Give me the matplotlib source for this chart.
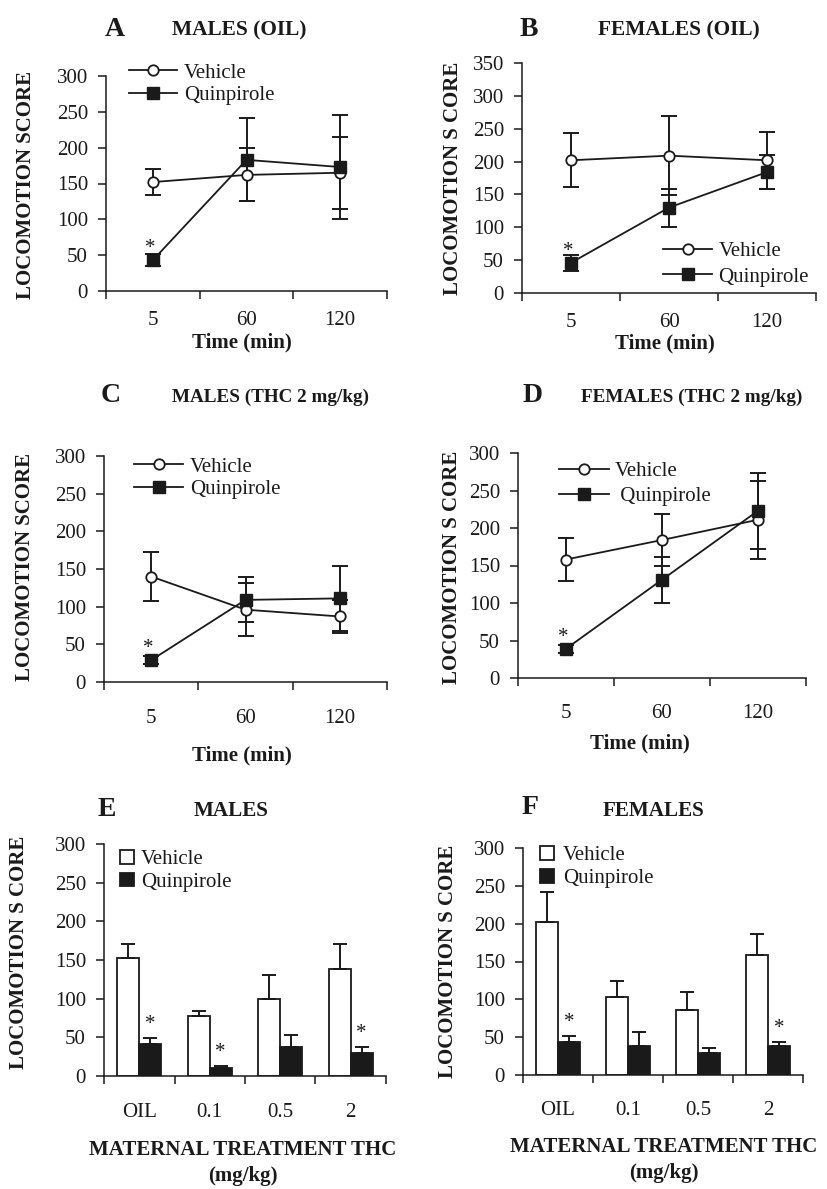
import matplotlib
matplotlib.use('Agg')
import matplotlib.pyplot as plt
import numpy as np

plt.rcParams['font.family'] = ['Liberation Serif', 'DejaVu Serif']
INK = '#1a1a1a'

# ---------------- data ----------------
time_labels = ['5', '60', '120']
dose_labels = ['OIL', '0.1', '0.5', '2']

a_vehicle = [152, 162, 165]
a_vehicle_err = [18, 37, 50]
a_quin = [43, 183, 173]
a_quin_err = [8, 58, 73]
a_sig = [True, False, False]

b_vehicle = [202, 209, 202]
b_vehicle_err = [41, 60, 43]
b_quin = [46, 130, 184]
b_quin_err = [12, 29, 26]
b_sig = [True, False, False]

c_vehicle = [140, 96, 87]
c_vehicle_err = [32, 35, 22]
c_quin = [29, 109, 111]
c_quin_err = [5, 30, 43]
c_sig = [True, False, False]

d_vehicle = [158, 184, 211]
d_vehicle_err = [29, 35, 52]
d_quin = [39, 131, 223]
d_quin_err = [5, 31, 51]
d_sig = [True, False, False]

e_vehicle = [152, 77, 100, 138]
e_vehicle_err = [19, 7, 31, 33]
e_quin = [42, 10, 38, 30]
e_quin_err = [7, 2.5, 15, 7]
e_sig = [True, True, False, True]

f_vehicle = [202, 103, 86, 158]
f_vehicle_err = [40, 21, 24, 29]
f_quin = [43, 38, 29, 38]
f_quin_err = [9, 19, 7, 5]
f_sig = [True, False, False, True]

# ---------------- layout (pixels) ----------------
W, H = 827, 1189
fig = plt.figure(figsize=(W / 100, H / 100), dpi=100)


def fx(px):
    return px / W


def fy(py):
    return 1 - py / H


def add_axes_px(l, t, r, b):
    return fig.add_axes([l / W, 1 - b / H, (r - l) / W, (b - t) / H])


def style_axes(ax, ymax, n, tick_labels, pad):
    ax.set_xlim(0, n)
    ax.set_ylim(0, ymax)
    for s in ['top', 'right']:
        ax.spines[s].set_visible(False)
    for s in ['left', 'bottom']:
        ax.spines[s].set_linewidth(1.1)
        ax.spines[s].set_color(INK)
    ax.set_yticks(np.arange(0, ymax + 1, 50))
    ax.set_xticks(np.arange(0, n + 1))
    ax.set_xticklabels([])
    ax.set_xticks(np.arange(n) + 0.5, minor=True)
    ax.set_xticklabels(tick_labels, minor=True)
    ax.tick_params(axis='x', which='major', length=6, width=1.1, color=INK, direction='out')
    ax.tick_params(axis='x', which='minor', length=0, pad=pad, labelsize=15, labelcolor=INK)
    ax.tick_params(axis='y', length=6, width=1.1, color=INK, direction='out', pad=7,
                   labelsize=15, labelcolor=INK)


def decorate(ax, letter, letter_pos, title, title_pos, title_size, ylabel, ylabel_pos,
             xlabel, xlabel_pos, legend_pos, legend_spacing, handles, labels,
             handlelength, handleheight, handletextpad):
    fig.text(fx(letter_pos[0]), fy(letter_pos[1]), letter, fontsize=20, fontweight='bold',
             ha='center', va='center', color=INK)
    fig.text(fx(title_pos[0]), fy(title_pos[1]), title, fontsize=title_size, fontweight='bold',
             ha='center', va='center', color=INK)
    ax.set_ylabel(ylabel, fontsize=15, fontweight='bold', color=INK)
    ax.yaxis.set_label_coords(fx(ylabel_pos[0]), fy(ylabel_pos[1]), transform=fig.transFigure)
    ax.yaxis.label.set_va('center')
    ax.set_xlabel(xlabel, fontsize=15, fontweight='bold', color=INK, linespacing=1.35)
    ax.xaxis.set_label_coords(fx(xlabel_pos[0]), fy(xlabel_pos[1]), transform=fig.transFigure)
    ax.xaxis.label.set_va('center')
    ax.legend(handles, labels, loc='center left',
              bbox_to_anchor=(fx(legend_pos[0]), fy(legend_pos[1])),
              bbox_transform=fig.transFigure, frameon=False, fontsize=15,
              borderpad=0, borderaxespad=0, labelspacing=legend_spacing,
              handlelength=handlelength, handleheight=handleheight,
              handletextpad=handletextpad, numpoints=1, labelcolor=INK)


def line_panel(ax, veh, veh_err, quin, quin_err, sig):
    x = np.arange(len(veh)) + 0.5
    ekw = dict(fmt='none', ecolor=INK, elinewidth=1.4, capsize=5.5, capthick=1.4,
               zorder=2, clip_on=False)
    ax.errorbar(x, veh, yerr=veh_err, **ekw)
    ax.errorbar(x, quin, yerr=quin_err, **ekw)
    lv, = ax.plot(x, veh, '-', color=INK, lw=1.3, marker='o', ms=7.5, mfc='white',
                  mec=INK, mew=1.3, zorder=3, clip_on=False)
    lq, = ax.plot(x, quin, '-', color=INK, lw=1.3, marker='s', ms=8, mfc=INK,
                  mec=INK, zorder=4, clip_on=False)
    for xi, yi, s in zip(x, quin, sig):
        if s:
            ax.annotate('*', xy=(xi, yi), xytext=(-2, 5), textcoords='offset points',
                        ha='center', va='baseline', fontsize=15, color=INK)
    return lv, lq


def bar_panel(ax, veh, veh_err, quin, quin_err, sig):
    n = len(veh)
    centers = np.arange(n) + 0.5
    w = 0.31
    xv = centers - w / 2
    xq = centers + w / 2
    bv = ax.bar(xv, veh, w, color='white', edgecolor=INK, lw=1.3, zorder=2)
    bq = ax.bar(xq, quin, w, color=INK, edgecolor=INK, lw=1.3, zorder=2)
    ekw = dict(fmt='none', ecolor=INK, elinewidth=1.4, capsize=5, capthick=1.4, zorder=3)
    ax.errorbar(xv, veh, yerr=[np.zeros(n), veh_err], **ekw)
    ax.errorbar(xq, quin, yerr=[np.zeros(n), quin_err], **ekw)
    for xi, yi, ei, s in zip(xq, quin, quin_err, sig):
        if s:
            ax.annotate('*', xy=(xi, yi + ei), xytext=(0, 6.5), textcoords='offset points',
                        ha='center', va='baseline', fontsize=15, color=INK)
    return bv, bq


# ---------- A ----------
ax = add_axes_px(106, 76, 387, 291)
style_axes(ax, 300, 3, time_labels, 14.4)
lv, lq = line_panel(ax, a_vehicle, a_vehicle_err, a_quin, a_quin_err, a_sig)
decorate(ax, 'A', (115, 30), 'MALES (OIL)', (239, 30), 15.4, 'LOCOMOTION SCORE', (26, 185),
         'Time (min)', (242, 342), (129, 84), 0.14, [lv, lq], ['Vehicle', 'Quinpirole'],
         2.3, 0.7, 0.34)

# ---------- B ----------
ax = add_axes_px(522, 63, 816, 293)
style_axes(ax, 350, 3, time_labels, 14.4)
lv, lq = line_panel(ax, b_vehicle, b_vehicle_err, b_quin, b_quin_err, b_sig)
decorate(ax, 'B', (529, 30), 'FEMALES (OIL)', (679, 30), 15.4, 'LOCOMOTION S CORE', (453, 178),
         'Time (min)', (665, 343), (663, 264), 0.3, [lv, lq], ['Vehicle', 'Quinpirole'],
         2.36, 0.7, 0.3)

# ---------- C ----------
ax = add_axes_px(104, 456, 387, 682)
style_axes(ax, 300, 3, time_labels, 19.4)
lv, lq = line_panel(ax, c_vehicle, c_vehicle_err, c_quin, c_quin_err, c_sig)
decorate(ax, 'C', (111, 396), 'MALES (THC 2 mg/kg)', (270, 397), 13.8, 'LOCOMOTION SCORE', (25, 567),
         'Time (min)', (242, 755), (134, 478), 0.14, [lv, lq], ['Vehicle', 'Quinpirole'],
         2.36, 0.7, 0.34)

# ---------- D ----------
ax = add_axes_px(518, 453, 806, 678)
style_axes(ax, 300, 3, time_labels, 19)
lv, lq = line_panel(ax, d_vehicle, d_vehicle_err, d_quin, d_quin_err, d_sig)
decorate(ax, 'D', (533, 395), 'FEMALES (THC 2 mg/kg)', (692, 397), 13.8, 'LOCOMOTION S CORE', (452, 567),
         'Time (min)', (640, 743), (559, 484), 0.25, [lv, lq], ['Vehicle', ' Quinpirole'],
         2.4, 0.7, 0.3)

# ---------- E ----------
ax = add_axes_px(104, 844, 386, 1076)
style_axes(ax, 300, 4, dose_labels, 19.2)
bv, bq = bar_panel(ax, e_vehicle, e_vehicle_err, e_quin, e_quin_err, e_sig)
decorate(ax, 'E', (107, 810), 'MALES', (231, 811), 15.2, 'LOCOMOTION S CORE', (19, 952),
         'MATERNAL TREATMENT THC\n(mg/kg)', (243, 1163), (120, 871), 0.17, [bv, bq],
         ['Vehicle', 'Quinpirole'], 0.67, 0.63, 0.34)

# ---------- F ----------
ax = add_axes_px(523, 848, 803, 1075)
style_axes(ax, 300, 4, dose_labels, 19)
bv, bq = bar_panel(ax, f_vehicle, f_vehicle_err, f_quin, f_quin_err, f_sig)
decorate(ax, 'F', (530, 808), 'FEMALES', (654, 811), 15.2, 'LOCOMOTION S CORE', (448, 961),
         'MATERNAL TREATMENT THC\n(mg/kg)', (664, 1160), (540, 867), 0.19, [bv, bq],
         ['Vehicle', 'Quinpirole'], 0.67, 0.63, 0.42)

fig.savefig('out.png', dpi=100, facecolor='white')
